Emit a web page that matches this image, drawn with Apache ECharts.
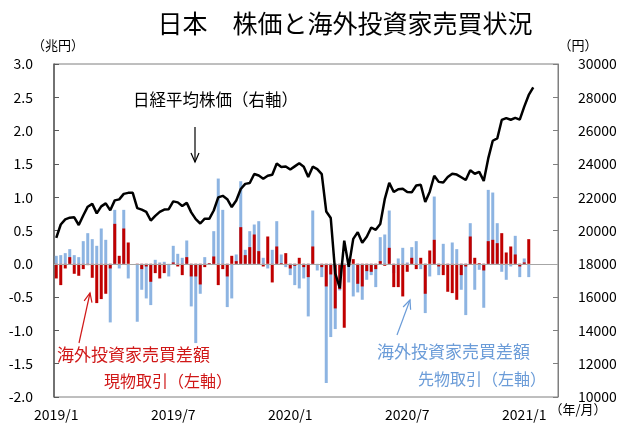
<!DOCTYPE html>
<html>
<head>
<meta charset="utf-8">
<script src="https://cdn.jsdelivr.net/npm/echarts@6/dist/echarts.min.js"></script>
<style>
html, body { margin: 0; padding: 0; background: #fff; }
#chart { width: 643px; height: 429px; }
</style>
</head>
<body>
<div id="chart"></div>
<script>
// 週次 2019/1/4 ～ 2021/1/15
// 日経平均株価（円, 右軸）
const nikkei = [19560,20360,20670,20770,20790,20330,20900,21430,21600,21030,
  21450,21630,21210,21810,21870,22200,22260,22260,21340,21250,
  21120,20600,20880,21120,21260,21280,21750,21690,21470,21660,
  21090,20680,20420,20710,20700,21200,21990,22080,21880,21410,
  21800,22490,22800,22850,23390,23300,23110,23290,23350,24020,
  23820,23840,23660,23850,24040,23830,23210,23830,23690,23390,
  21140,20750,17430,16550,19390,17820,19500,19900,19260,19620,
  20180,20040,20390,21880,22860,22310,22480,22510,22310,22290,
  22700,22750,21710,22330,23290,22920,22880,23210,23410,23360,
  23200,23030,23620,23410,23520,22980,24330,25390,25530,26640,
  26750,26650,26760,26660,27440,28140,28600];

// 海外投資家売買差額 現物取引（兆円, 左軸）
const cashFlow = [-0.22,-0.32,-0.07,0.10,-0.15,-0.18,-0.08,-0.02,-0.21,-0.59,
  -0.53,-0.45,-0.07,0.60,0.12,0.53,0.32,null,-0.01,-0.08,
  -0.04,-0.27,-0.14,-0.22,-0.14,0,0.02,-0.04,-0.17,0.10,
  -0.19,-0.19,-0.31,-0.05,0.01,0.11,-0.32,-0.08,-0.19,0.12,
  0.04,0.55,0.13,0.25,0.44,0.19,-0.04,0.41,-0.28,0.26,
  0.01,0.16,-0.07,-0.03,0.09,-0.05,-0.20,0.26,0,-0.05,
  -0.34,-0.16,-0.67,-0.38,-0.96,-0.02,0.07,-0.30,-0.34,-0.11,
  -0.12,-0.08,0.04,-0.03,0.24,-0.35,-0.35,-0.49,-0.12,0.09,
  -0.08,0.09,-0.45,0.20,0.36,-0.04,-0.17,-0.42,-0.44,-0.54,
  -0.17,-0.04,0.41,0.09,0.01,-0.10,0.34,0.36,0.31,0.46,
  0.17,0.26,0.14,-0.04,0.02,0.37];

// 海外投資家売買差額 先物取引（兆円, 左軸）
const futuresFlow = [0.12,0.13,0.16,0.22,0.13,0.10,0.34,0.46,0.37,0.27,
  0.53,0.36,-0.88,0.81,-0.07,0.81,-0.22,null,-0.87,-0.39,
  -0.52,-0.62,0.06,0.02,0.03,-0.19,0.27,0.15,0.09,0.35,
  -0.64,-1.19,-0.45,0.10,0.01,0.49,1.28,0.81,-0.65,-0.52,
  0.14,1.24,0.21,0.49,0.59,0.64,0.09,-0.07,0.21,0.64,
  0.14,-0.05,-0.17,-0.32,-0.37,-0.22,-0.79,0.80,-0.10,-0.20,
  -1.79,-1.10,-0.98,-0.40,-0.03,-0.28,-0.49,-0.43,-0.54,-0.24,
  -0.17,-0.35,0.40,0.44,0.80,-0.14,0.08,0.24,0.02,0.25,
  0.34,-0.08,-0.74,-0.19,1.01,-0.17,0.30,-0.02,0.32,0.22,
  -0.39,-0.77,0.61,-0.39,-0.09,-0.66,1.11,1.07,0.61,-0.12,
  -0.24,-0.04,0.42,-0.20,0.08,-0.20];

// x軸の目盛ラベル（週の位置）
const tickLabels = ['2019/1', '2019/7', '2020/1', '2020/7', '2021/1'];
const tickIndex = [0, 26, 52, 78, 104];
const weekCount = 112;

const categories = [];
for (let i = 0; i < weekCount; i++) {
  let k = tickIndex.indexOf(i);
  categories.push(k >= 0 ? tickLabels[k] : '');
}

const FONT = '"Noto Sans CJK JP", "Noto Sans", sans-serif';
const RED = '#c00000';
const BLUE = '#8db4e2';
const AXIS = '#7f7f7f';

let chart = echarts.init(document.getElementById('chart'));

function arrow(x1, y1, x2, y2, color) {
  // 矢印（先端は x2, y2）
  let dx = x2 - x1, dy = y2 - y1;
  let len = Math.sqrt(dx * dx + dy * dy);
  let ux = dx / len, uy = dy / len;
  let bx = x2 - ux * 9, by = y2 - uy * 9;
  let px = -uy * 4, py = ux * 4;
  return [
    { type: 'line', shape: { x1: x1, y1: y1, x2: x2, y2: y2 }, style: { stroke: color, lineWidth: 1.2 } },
    { type: 'polyline', shape: { points: [[bx + px, by + py], [x2, y2], [bx - px, by - py]] },
      style: { stroke: color, lineWidth: 1.2, fill: null } }
  ];
}

function label(text, x, y, color, size, align) {
  return {
    type: 'text',
    style: {
      text: text, x: x, y: y, fill: color,
      font: size + 'px ' + FONT,
      textAlign: align || 'left', textVerticalAlign: 'middle',
      align: align || 'left', verticalAlign: 'middle'
    }
  };
}

let option = {
  backgroundColor: '#fff',
  animation: false,
  textStyle: { fontFamily: FONT },
  grid: {
    left: 54, right: 85, top: 64, bottom: 32,
    show: true, borderColor: AXIS, borderWidth: 1, backgroundColor: 'transparent'
  },
  xAxis: {
    type: 'category',
    data: categories,
    boundaryGap: true,
    axisLine: { show: false, onZero: false },
    axisTick: { show: false },
    axisLabel: {
      interval: function (i) { return tickIndex.indexOf(i) >= 0; },
      color: '#000', fontSize: 14, margin: 11, fontFamily: FONT
    },
    splitLine: { show: false }
  },
  yAxis: [
    {
      type: 'value', min: -2, max: 3, interval: 0.5,
      axisLine: { show: true, lineStyle: { color: '#595959', width: 1.5 } },
      axisTick: { show: true, inside: true, length: 5, lineStyle: { color: '#595959' } },
      axisLabel: { color: '#000', fontSize: 14, margin: 21, fontFamily: FONT,
        formatter: function (v) { return v.toFixed(1); } },
      splitLine: { show: false }
    },
    {
      type: 'value', min: 10000, max: 30000, interval: 2000,
      axisLine: { show: true, lineStyle: { color: AXIS } },
      axisTick: { show: true, inside: true, length: 5, lineStyle: { color: AXIS } },
      axisLabel: { color: '#000', fontSize: 14, margin: 20, fontFamily: FONT,
        formatter: function (v) { return String(v); } },
      splitLine: { show: false }
    }
  ],
  series: [
    {
      name: '先物取引', type: 'bar', data: futuresFlow,
      barWidth: 3, itemStyle: { color: BLUE }
    },
    {
      name: '現物取引', type: 'bar', data: cashFlow,
      barWidth: 3, barGap: '-100%', itemStyle: { color: RED },
      markLine: {
        silent: true, symbol: 'none', label: { show: false },
        lineStyle: { color: '#a6a6a6', width: 1, type: 'solid' },
        data: [{ yAxis: 0 }]
      }
    },
    {
      name: '日経平均株価', type: 'line', yAxisIndex: 1, data: nikkei,
      symbol: 'none', smooth: false, z: 5,
      lineStyle: { color: '#000', width: 2.5 }
    }
  ],
  graphic: [
    label('日本　株価と海外投資家売買状況', 345, 23, '#000', 25, 'center'),
    label('（兆円）', 58, 45, '#000', 13, 'center'),
    label('（円）', 578, 45, '#000', 13, 'center'),
    label('（年/月）', 578, 409, '#000', 13, 'center'),
    label('日経平均株価（右軸）', 133, 100, '#000', 16.5, 'left'),
    label('海外投資家売買差額', 57, 355, '#d01818', 17, 'left'),
    label('現物取引（左軸）', 104, 381, '#d01818', 16, 'left'),
    label('海外投資家売買差額', 377, 352, '#6b9cd8', 17, 'left'),
    label('先物取引（左軸）', 418, 379, '#6b9cd8', 16, 'left')
  ].concat(arrow(195, 127, 195, 162, '#000'))
   .concat(arrow(79, 343, 90, 293, '#d01818'))
   .concat(arrow(397, 335, 410, 300, '#6b9cd8'))
};

chart.setOption(option);
</script>
</body>
</html>
